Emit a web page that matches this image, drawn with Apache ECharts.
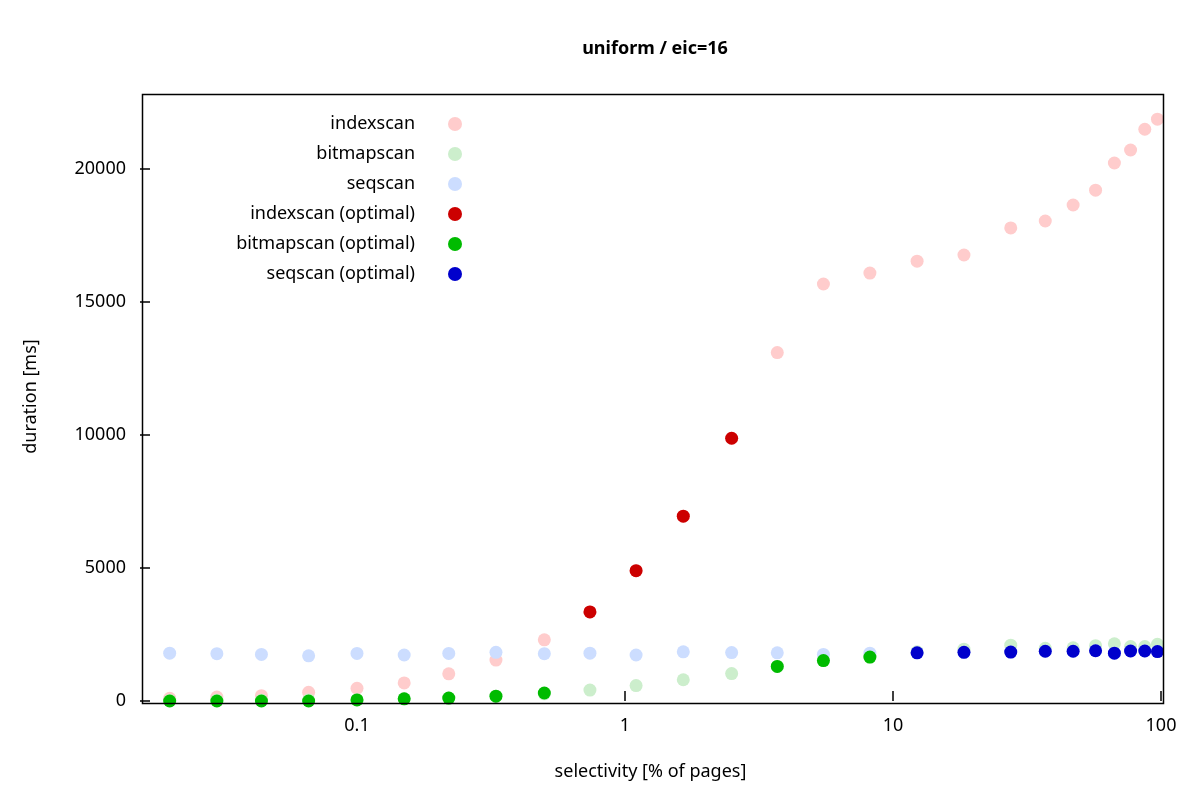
<!DOCTYPE html>
<html><head><meta charset="utf-8">
<script src="https://cdn.jsdelivr.net/npm/echarts@6/dist/echarts.min.js"></script>
<style>html,body{margin:0;padding:0;background:#fff}#c{width:1200px;height:800px}</style>
</head><body><div id="c"></div>
<script>
const selectivity = [0.02,0.03,0.044,0.066,0.1,0.15,0.22,0.33,0.5,0.74,1.1,1.65,2.5,3.7,5.5,8.2,12.3,18.4,27.5,37,47,57,67,77,87,97];
const indexscan = [100,150,200,330,480,680,1020,1540,2300,3350,4900,6950,9880,13100,15680,16090,16540,16770,17790,18050,18650,19210,20230,20720,21500,21880];
const bitmapscan = [20,30,30,40,50,80,110,180,270,410,580,800,1030,1300,1520,1650,1850,1950,2100,1980,2000,2080,2150,2050,2050,2130];
const seqscan = [1800,1780,1750,1700,1790,1730,1790,1830,1780,1800,1730,1850,1820,1810,1750,1800,1810,1830,1840,1870,1870,1890,1800,1880,1880,1860];
const bitmapOpt = [0,0,0,0,40,80,110,180,300,null,null,null,null,1300,1520,1650,null,null,null,null,null,null,null,null,null,null];
const indexOptIdx = [9,10,11,12];
const seqOptIdx = [16,17,18,19,20,21,22,23,24,25];

const pts = arr => selectivity.map((x,i)=>[x,arr[i]]).filter(p=>p[1]!=null);
const sub = (arr,idx) => idx.map(i=>[selectivity[i],arr[i]]);
const font = 'Noto Sans';
function s(name,data,color){return {name,type:'scatter',data,symbolSize:13,itemStyle:{color,opacity:1},emphasis:{disabled:true}};}

const chart = echarts.init(document.getElementById('c'));
chart.setOption({
  animation:false,
  textStyle:{fontFamily:font,color:'#000'},
  title:{text:'uniform / eic=16',left:650,top:35,textAlign:'center',textStyle:{fontFamily:font,fontSize:18,fontWeight:'bold',color:'#000'}},
  grid:{left:140,right:39,top:92,bottom:99},
  legend:{orient:'vertical',left:180,top:109,align:'right',itemGap:10,itemWidth:14,itemHeight:14,icon:'circle',
    textStyle:{fontFamily:font,fontSize:18,color:'#000',width:230,align:'right',lineHeight:20,padding:[0,28,0,0]},
    data:['indexscan','bitmapscan','seqscan','indexscan (optimal)','bitmapscan (optimal)','seqscan (optimal)']},
  xAxis:{type:'log',logBase:10,min:0.0155,max:100,name:'selectivity [% of pages]',nameLocation:'middle',nameGap:62,
    nameTextStyle:{fontFamily:font,fontSize:18,color:'#000'},
    axisLine:{show:false},axisTick:{inside:true,length:10,lineStyle:{color:'#000',width:1.5}},
    axisLabel:{fontFamily:font,fontSize:18,color:'#000',margin:16,showMinLabel:false},splitLine:{show:false}},
  yAxis:{type:'value',min:0,max:22900,interval:5000,name:'duration [ms]',nameLocation:'middle',nameGap:100,
    nameTextStyle:{fontFamily:font,fontSize:18,color:'#000'},
    axisLine:{show:false},axisTick:{show:true,inside:true,length:10,lineStyle:{color:'#000',width:1.5}},
    axisLabel:{fontFamily:font,fontSize:18,color:'#000',margin:14,showMaxLabel:false,formatter:v=>String(v)},splitLine:{show:false}},
  graphic:[{type:'rect',left:140,top:92,shape:{width:1021,height:609},style:{fill:'none',stroke:'#000',lineWidth:1.5},silent:true,z:100}],
  series:[
    s('indexscan',pts(indexscan),'#ffcccc'),
    s('bitmapscan',pts(bitmapscan),'#cceecc'),
    s('seqscan',pts(seqscan),'#ccddff'),
    s('indexscan (optimal)',sub(indexscan,indexOptIdx),'#cc0000'),
    s('bitmapscan (optimal)',pts(bitmapOpt),'#00bb00'),
    s('seqscan (optimal)',sub(seqscan,seqOptIdx),'#0000cc')
  ]
});
</script></body></html>
